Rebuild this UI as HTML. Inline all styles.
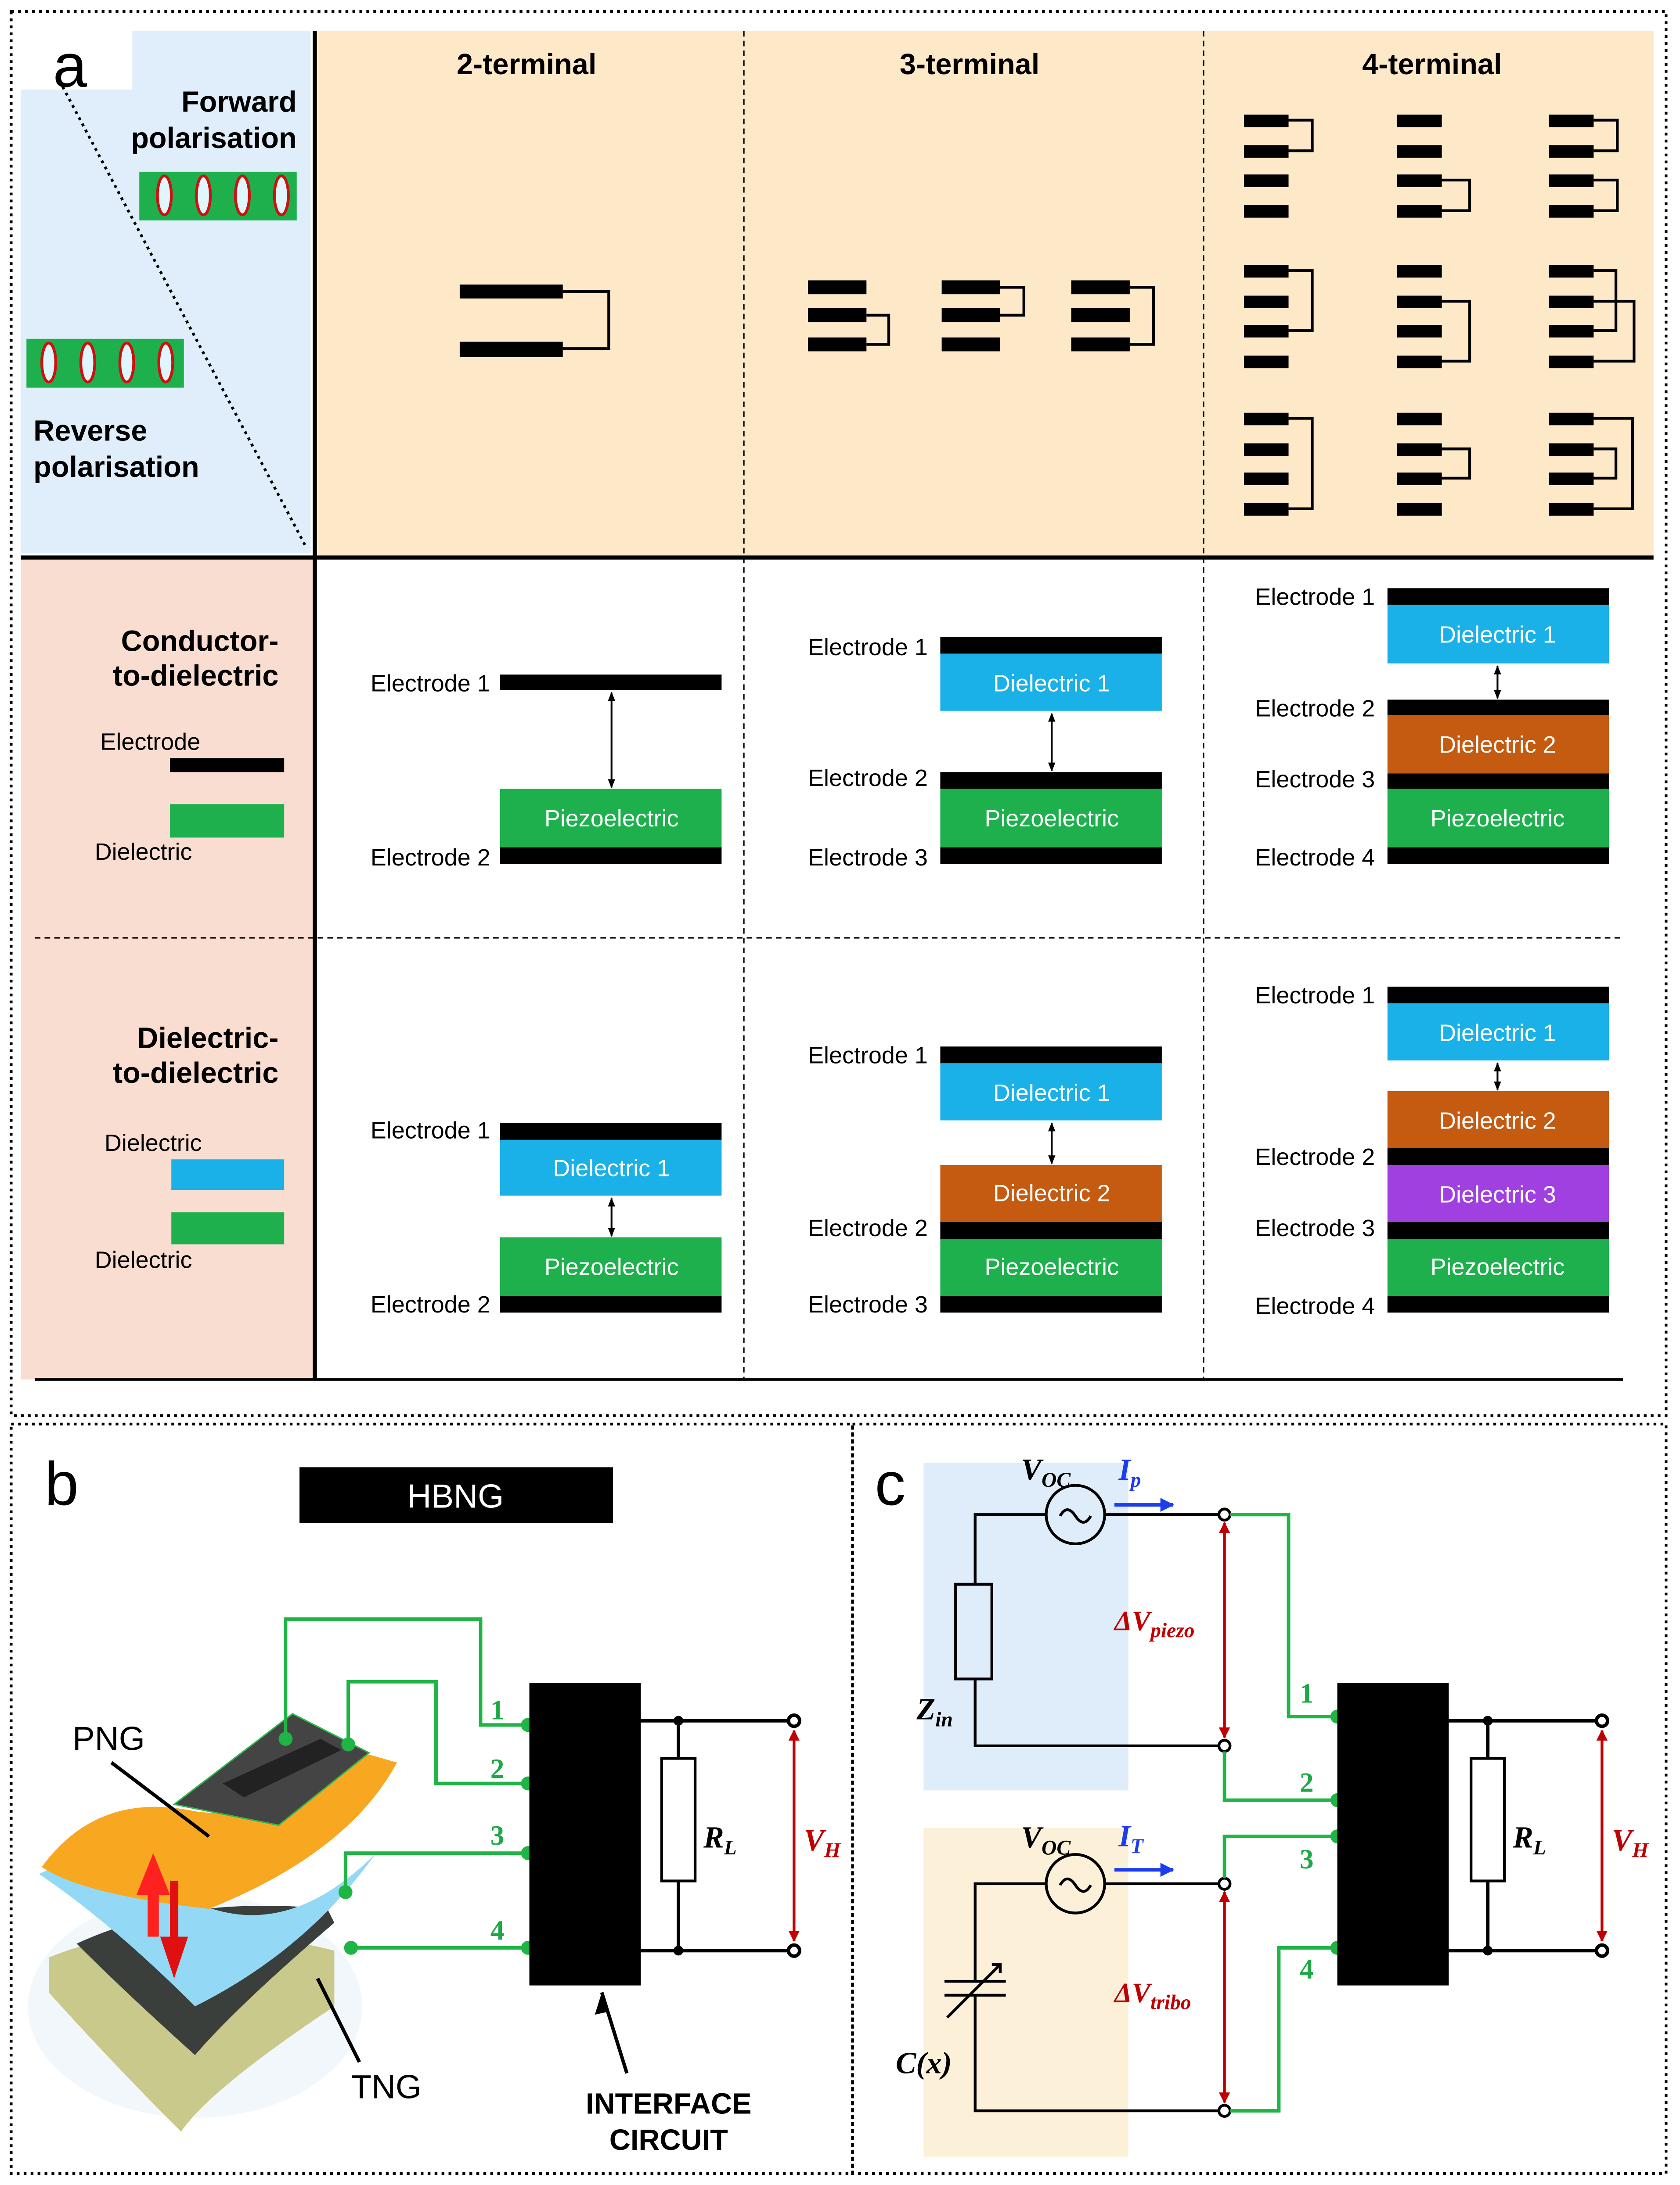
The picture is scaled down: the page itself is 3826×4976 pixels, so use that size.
<!DOCTYPE html>
<html><head><meta charset="utf-8"><style>
html,body{margin:0;padding:0;background:#fff}
svg{display:block}
text{font-family:"Liberation Sans",sans-serif}
.h{font-weight:bold;font-size:21px}
.l{font-size:17px}
.w{fill:#fff;font-size:17px;text-anchor:middle}
.m{font-family:"Liberation Serif",serif;font-weight:bold;font-style:italic}
.g{fill:#1fa845;font-family:"Liberation Serif",serif;font-weight:bold;font-size:20px}
</style></head><body>
<svg width="3826" height="4976" viewBox="0 0 1206 1568" xmlns="http://www.w3.org/2000/svg">
<defs>
<marker id="ab" viewBox="0 0 10 10" refX="9" refY="5" markerWidth="5" markerHeight="5" orient="auto-start-reverse"><path d="M0,1L10,5L0,9z" fill="#000"/></marker>
<marker id="ar" viewBox="0 0 10 10" refX="9" refY="5" markerWidth="4" markerHeight="4" orient="auto-start-reverse"><path d="M0,0L10,5L0,10z" fill="#c00000"/></marker>
<marker id="abl" viewBox="0 0 10 10" refX="9" refY="5" markerWidth="4" markerHeight="4" orient="auto"><path d="M0,0L10,5L0,10z" fill="#1c3cf0"/></marker>
</defs>
<!-- Panel a backgrounds -->
<rect x="15" y="22" width="208" height="375" fill="#dfeefa"/>
<rect x="15" y="22" width="80" height="42" fill="#fff"/>
<rect x="228" y="22" width="959" height="378" fill="#fde9c8"/>
<rect x="15" y="400" width="212" height="590" fill="#f9ddd0"/>
<g fill="none" stroke="#000" stroke-dasharray="2,3" stroke-width="2">
<rect x="8" y="8" width="1188" height="1008"/>
<rect x="8" y="1022" width="604" height="538"/>
<rect x="612" y="1022" width="584" height="538"/>
</g>
<line x1="226" y1="22" x2="226" y2="990" stroke="#000" stroke-width="3"/>
<line x1="15" y1="400" x2="1187" y2="400" stroke="#000" stroke-width="3"/>
<line x1="25" y1="990" x2="1165" y2="990" stroke="#000" stroke-width="2"/>
<g stroke="#000" stroke-width="1" stroke-dasharray="4,3">
<line x1="534" y1="22" x2="534" y2="990"/><line x1="864" y1="22" x2="864" y2="990"/>
<line x1="25" y1="673" x2="1165" y2="673"/>
<line x1="45" y1="62" x2="220" y2="393" stroke-dasharray="2,3" stroke-width="2"/>
</g>
<text x="38" y="62" font-size="44">a</text>
<text class="h" x="213" y="80" text-anchor="end">Forward</text>
<text class="h" x="213" y="106" text-anchor="end">polarisation</text>
<text class="h" x="24" y="316">Reverse</text>
<text class="h" x="24" y="342">polarisation</text>
<rect x="100" y="123" width="113" height="35" fill="#1db04d"/>
<rect x="19" y="243" width="113" height="35" fill="#1db04d"/>
<g fill="#dff6ff" stroke="#d01010" stroke-width="2">
<ellipse cx="118" cy="140" rx="5" ry="14"/><ellipse cx="146" cy="140" rx="5" ry="14"/><ellipse cx="174" cy="140" rx="5" ry="14"/><ellipse cx="202" cy="140" rx="5" ry="14"/>
<ellipse cx="35" cy="260" rx="5" ry="14"/><ellipse cx="63" cy="260" rx="5" ry="14"/><ellipse cx="91" cy="260" rx="5" ry="14"/><ellipse cx="119" cy="260" rx="5" ry="14"/>
</g>
<text class="h" x="378" y="53" text-anchor="middle">2-terminal</text>
<text class="h" x="696" y="53" text-anchor="middle">3-terminal</text>
<text class="h" x="1028" y="53" text-anchor="middle">4-terminal</text>
<!-- 2-terminal -->
<g fill="#000"><rect x="330" y="204" width="74" height="10"/><rect x="330" y="245" width="74" height="11"/></g>
<path d="M404,209H437V250H404" fill="none" stroke="#000" stroke-width="2"/>
<!-- 3-terminal -->
<g fill="#000">
<rect x="580" y="201" width="42" height="10"/><rect x="580" y="221" width="42" height="10"/><rect x="580" y="242" width="42" height="10"/>
<rect x="676" y="201" width="42" height="10"/><rect x="676" y="221" width="42" height="10"/><rect x="676" y="242" width="42" height="10"/>
<rect x="769" y="201" width="42" height="10"/><rect x="769" y="221" width="42" height="10"/><rect x="769" y="242" width="42" height="10"/>
</g>
<g fill="none" stroke="#000" stroke-width="2">
<path d="M622,226H638V247H622"/><path d="M718,206H735V226H718"/><path d="M811,206H828V247H811"/>
</g>
<!-- 4-terminal -->
<g fill="#000">
<rect x="893" y="82" width="32" height="9"/><rect x="893" y="104" width="32" height="9"/><rect x="893" y="125" width="32" height="9"/><rect x="893" y="147" width="32" height="9"/>
<rect x="1003" y="82" width="32" height="9"/><rect x="1003" y="104" width="32" height="9"/><rect x="1003" y="125" width="32" height="9"/><rect x="1003" y="147" width="32" height="9"/>
<rect x="1112" y="82" width="32" height="9"/><rect x="1112" y="104" width="32" height="9"/><rect x="1112" y="125" width="32" height="9"/><rect x="1112" y="147" width="32" height="9"/>
<rect x="893" y="190" width="32" height="9"/><rect x="893" y="212" width="32" height="9"/><rect x="893" y="233" width="32" height="9"/><rect x="893" y="255" width="32" height="9"/>
<rect x="1003" y="190" width="32" height="9"/><rect x="1003" y="212" width="32" height="9"/><rect x="1003" y="233" width="32" height="9"/><rect x="1003" y="255" width="32" height="9"/>
<rect x="1112" y="190" width="32" height="9"/><rect x="1112" y="212" width="32" height="9"/><rect x="1112" y="233" width="32" height="9"/><rect x="1112" y="255" width="32" height="9"/>
<rect x="893" y="296" width="32" height="9"/><rect x="893" y="318" width="32" height="9"/><rect x="893" y="339" width="32" height="9"/><rect x="893" y="361" width="32" height="9"/>
<rect x="1003" y="296" width="32" height="9"/><rect x="1003" y="318" width="32" height="9"/><rect x="1003" y="339" width="32" height="9"/><rect x="1003" y="361" width="32" height="9"/>
<rect x="1112" y="296" width="32" height="9"/><rect x="1112" y="318" width="32" height="9"/><rect x="1112" y="339" width="32" height="9"/><rect x="1112" y="361" width="32" height="9"/>
</g>
<g fill="none" stroke="#000" stroke-width="2">
<path d="M925,86H942V108H925"/><path d="M1035,129H1055V151H1035"/><path d="M1144,86H1161V108H1144M1144,129H1161V151H1144"/>
<path d="M925,194H942V237H925"/><path d="M1035,216H1055V259H1035"/><path d="M1144,194H1160V237H1144M1144,216H1173V259H1144"/>
<path d="M925,300H942V365H925"/><path d="M1035,322H1055V343H1035"/><path d="M1144,300H1172V365H1144M1144,322H1160V343H1144"/>
</g>
<!-- row labels -->
<text class="h" x="200" y="467" text-anchor="end">Conductor-</text>
<text class="h" x="200" y="492" text-anchor="end">to-dielectric</text>
<text class="l" x="72" y="538">Electrode</text>
<rect x="122" y="544" width="82" height="10" fill="#000"/>
<rect x="122" y="577" width="82" height="24" fill="#1db04d"/>
<text class="l" x="68" y="617">Dielectric</text>
<text class="h" x="200" y="752" text-anchor="end">Dielectric-</text>
<text class="h" x="200" y="777" text-anchor="end">to-dielectric</text>
<text class="l" x="75" y="826">Dielectric</text>
<rect x="123" y="832" width="81" height="22" fill="#1ab0e8"/>
<rect x="123" y="870" width="81" height="23" fill="#1db04d"/>
<text class="l" x="68" y="910">Dielectric</text>
<!-- cells -->
<g fill="#000">
<rect x="359" y="484" width="159" height="11"/><rect x="359" y="608" width="159" height="12"/>
<rect x="675" y="457" width="159" height="12"/><rect x="675" y="554" width="159" height="12"/><rect x="675" y="608" width="159" height="12"/>
<rect x="996" y="422" width="159" height="12"/><rect x="996" y="502" width="159" height="11"/><rect x="996" y="555" width="159" height="11"/><rect x="996" y="608" width="159" height="12"/>
<rect x="359" y="806" width="159" height="12"/><rect x="359" y="930" width="159" height="12"/>
<rect x="675" y="751" width="159" height="12"/><rect x="675" y="877" width="159" height="12"/><rect x="675" y="930" width="159" height="12"/>
<rect x="996" y="708" width="159" height="12"/><rect x="996" y="824" width="159" height="12"/><rect x="996" y="877" width="159" height="12"/><rect x="996" y="930" width="159" height="12"/>
</g>
<rect x="359" y="566" width="159" height="42" fill="#1db04d"/>
<rect x="675" y="469" width="159" height="41" fill="#1ab0e8"/><rect x="675" y="566" width="159" height="42" fill="#1db04d"/>
<rect x="996" y="434" width="159" height="42" fill="#1ab0e8"/><rect x="996" y="513" width="159" height="42" fill="#c55a11"/><rect x="996" y="566" width="159" height="42" fill="#1db04d"/>
<rect x="359" y="818" width="159" height="40" fill="#1ab0e8"/><rect x="359" y="888" width="159" height="42" fill="#1db04d"/>
<rect x="675" y="763" width="159" height="41" fill="#1ab0e8"/><rect x="675" y="836" width="159" height="41" fill="#c55a11"/><rect x="675" y="889" width="159" height="41" fill="#1db04d"/>
<rect x="996" y="720" width="159" height="41" fill="#1ab0e8"/><rect x="996" y="783" width="159" height="41" fill="#c55a11"/><rect x="996" y="836" width="159" height="41" fill="#a040e0"/><rect x="996" y="889" width="159" height="41" fill="#1db04d"/>
<g class="w">
<text class="w" x="439" y="593">Piezoelectric</text>
<text class="w" x="755" y="496">Dielectric 1</text><text class="w" x="755" y="593">Piezoelectric</text>
<text class="w" x="1075" y="461">Dielectric 1</text><text class="w" x="1075" y="540">Dielectric 2</text><text class="w" x="1075" y="593">Piezoelectric</text>
<text class="w" x="439" y="844">Dielectric 1</text><text class="w" x="439" y="915">Piezoelectric</text>
<text class="w" x="755" y="790">Dielectric 1</text><text class="w" x="755" y="862">Dielectric 2</text><text class="w" x="755" y="915">Piezoelectric</text>
<text class="w" x="1075" y="747">Dielectric 1</text><text class="w" x="1075" y="810">Dielectric 2</text><text class="w" x="1075" y="863">Dielectric 3</text><text class="w" x="1075" y="915">Piezoelectric</text>
</g>
<g stroke="#000" stroke-width="1.3" marker-start="url(#ab)" marker-end="url(#ab)">
<line x1="439" y1="497" x2="439" y2="565"/><line x1="755" y1="512" x2="755" y2="553"/><line x1="1075" y1="478" x2="1075" y2="501"/>
<line x1="439" y1="860" x2="439" y2="887"/><line x1="755" y1="806" x2="755" y2="835"/><line x1="1075" y1="763" x2="1075" y2="782"/>
</g>
<g class="l" text-anchor="end">
<text class="l" x="352" y="496" text-anchor="end">Electrode 1</text><text class="l" x="352" y="621" text-anchor="end">Electrode 2</text>
<text class="l" x="666" y="470" text-anchor="end">Electrode 1</text><text class="l" x="666" y="564" text-anchor="end">Electrode 2</text><text class="l" x="666" y="621" text-anchor="end">Electrode 3</text>
<text class="l" x="987" y="434" text-anchor="end">Electrode 1</text><text class="l" x="987" y="514" text-anchor="end">Electrode 2</text><text class="l" x="987" y="565" text-anchor="end">Electrode 3</text><text class="l" x="987" y="621" text-anchor="end">Electrode 4</text>
<text class="l" x="352" y="817" text-anchor="end">Electrode 1</text><text class="l" x="352" y="942" text-anchor="end">Electrode 2</text>
<text class="l" x="666" y="763" text-anchor="end">Electrode 1</text><text class="l" x="666" y="887" text-anchor="end">Electrode 2</text><text class="l" x="666" y="942" text-anchor="end">Electrode 3</text>
<text class="l" x="987" y="720" text-anchor="end">Electrode 1</text><text class="l" x="987" y="836" text-anchor="end">Electrode 2</text><text class="l" x="987" y="887" text-anchor="end">Electrode 3</text><text class="l" x="987" y="943" text-anchor="end">Electrode 4</text>
</g>
<!-- Panel b -->
<text x="32" y="1080" font-size="44">b</text>
<rect x="215" y="1053" width="225" height="40" fill="#000"/>
<text x="327" y="1082" fill="#fff" font-size="24" text-anchor="middle">HBNG</text>
<!-- device -->
<ellipse cx="140" cy="1440" rx="120" ry="80" fill="#f2f7fb"/>
<path d="M35,1405 Q120,1370 240,1400 L240,1440 Q150,1500 130,1530 Q80,1480 35,1430z" fill="#c8c98a"/>
<path d="M55,1395 Q130,1360 235,1370 L240,1380 Q170,1440 140,1475 Q90,1430 55,1395z" fill="#3a3f3c"/>
<path d="M28,1345 Q80,1320 130,1360 Q200,1400 270,1330 Q220,1400 140,1440 Q80,1380 28,1345z" fill="#93d9f5"/>
<path d="M30,1340 Q70,1285 140,1300 Q220,1310 250,1255 L285,1265 Q250,1330 150,1370 Q60,1360 30,1340z" fill="#f8a820"/>
<path d="M125,1295 L210,1230 L265,1258 L200,1310z" fill="#444" stroke="#2db84d" stroke-width="1"/>
<path d="M160,1280 L230,1248 L245,1256 L175,1290z" fill="#222"/>
<path d="M110,1330 L98,1360 H106 V1390 H114 V1360 H122z" fill="#ff2020"/>
<path d="M122,1350 V1390 H115 L125,1420 L135,1390 H128 V1350z" fill="#e01010"/>
<text x="52" y="1256" font-size="24">PNG</text>
<text x="252" y="1506" font-size="24">TNG</text>
<g stroke="#000" stroke-width="2.5"><line x1="80" y1="1265" x2="150" y2="1318"/><line x1="258" y1="1480" x2="228" y2="1420"/><line x1="450" y1="1488" x2="432" y2="1430"/></g>
<path d="M432,1430l-5,16l9,-2z" fill="#000"/>
<text x="480" y="1517" font-size="21" font-weight="bold" text-anchor="middle">INTERFACE</text>
<text x="480" y="1543" font-size="21" font-weight="bold" text-anchor="middle">CIRCUIT</text>
<g fill="none" stroke="#1fb545" stroke-width="2.5">
<path d="M205,1248V1162H345V1238H378"/><path d="M250,1252V1207H313V1280H378"/><path d="M248,1358V1330H378"/><path d="M252,1398H378"/>
</g>
<g fill="#1fb545"><circle cx="205" cy="1248" r="5"/><circle cx="250" cy="1252" r="5"/><circle cx="248" cy="1358" r="5"/><circle cx="252" cy="1398" r="5"/>
<circle cx="379" cy="1238" r="5"/><circle cx="379" cy="1280" r="5"/><circle cx="379" cy="1330" r="5"/><circle cx="379" cy="1398" r="5"/></g>
<text class="g" x="352" y="1234">1</text><text class="g" x="352" y="1276">2</text><text class="g" x="352" y="1324">3</text><text class="g" x="352" y="1392">4</text>
<rect x="380" y="1208" width="80" height="217" fill="#000"/>
<g fill="none" stroke="#000" stroke-width="2.5"><path d="M460,1235H566M460,1400H566M487,1235V1262M487,1350V1400"/><rect x="475" y="1262" width="24" height="88" stroke-width="2"/>
<circle cx="570" cy="1235" r="4"/><circle cx="570" cy="1400" r="4"/></g>
<circle cx="487" cy="1235" r="3.5"/><circle cx="487" cy="1400" r="3.5"/>
<line x1="570" y1="1242" x2="570" y2="1393" stroke="#c00000" stroke-width="2" marker-start="url(#ar)" marker-end="url(#ar)"/>
<text class="m" x="505" y="1326" font-size="22">R<tspan font-size="15" dy="5">L</tspan></text>
<text class="m" x="577" y="1328" font-size="22" fill="#c00000">V<tspan font-size="15" dy="5">H</tspan></text>
<!-- Panel c -->
<text x="628" y="1080" font-size="44">c</text>
<rect x="663" y="1050" width="147" height="235" fill="#deedf9"/>
<rect x="663" y="1312" width="147" height="236" fill="#fdf0d8"/>
<g fill="none" stroke="#000" stroke-width="2">
<path d="M700,1137V1087H751M794,1087H875M700,1205V1253H875"/><rect x="686" y="1137" width="26" height="68"/>
<circle cx="772" cy="1087" r="21"/><path d="M761,1088q5,-9 11,0t11,0"/>
<path d="M700,1422V1352H751M794,1352H875M700,1432V1515H875M678,1422H722M678,1432H722"/>
<circle cx="772" cy="1352" r="21"/><path d="M761,1353q5,-9 11,0t11,0"/>
<line x1="680" y1="1448" x2="718" y2="1410"/><path d="M712,1410h6v6"/>
<circle cx="879" cy="1087" r="4"/><circle cx="879" cy="1253" r="4"/><circle cx="879" cy="1352" r="4"/><circle cx="879" cy="1515" r="4"/>
</g>
<g stroke="#c00000" stroke-width="2"><line x1="879" y1="1093" x2="879" y2="1247" marker-start="url(#ar)" marker-end="url(#ar)"/><line x1="879" y1="1358" x2="879" y2="1509" marker-start="url(#ar)" marker-end="url(#ar)"/></g>
<g stroke="#1c3cf0" stroke-width="2.5"><line x1="800" y1="1080" x2="842" y2="1080" marker-end="url(#abl)"/><line x1="800" y1="1342" x2="842" y2="1342" marker-end="url(#abl)"/></g>
<text class="m" x="733" y="1062" font-size="22">V<tspan font-size="15" dy="5">OC</tspan></text>
<text class="m" x="733" y="1326" font-size="22">V<tspan font-size="15" dy="5">OC</tspan></text>
<text class="m" x="803" y="1062" font-size="22" fill="#1c3cf0">I<tspan font-size="15" dy="5">p</tspan></text>
<text class="m" x="803" y="1325" font-size="22" fill="#1c3cf0">I<tspan font-size="15" dy="5">T</tspan></text>
<text class="m" x="800" y="1170" font-size="20" fill="#c00000">ΔV<tspan font-size="15" dy="5">piezo</tspan></text>
<text class="m" x="800" y="1437" font-size="20" fill="#c00000">ΔV<tspan font-size="15" dy="5">tribo</tspan></text>
<text class="m" x="658" y="1234" font-size="22">Z<tspan font-size="15" dy="5">in</tspan></text>
<text class="m" x="643" y="1488" font-size="22">C(x)</text>
<g fill="none" stroke="#1fb545" stroke-width="2.5">
<path d="M883,1087H925V1232H958"/><path d="M879,1257V1292H958"/><path d="M879,1348V1318H958"/><path d="M883,1515H918V1398H958"/>
</g>
<g fill="#1fb545"><circle cx="960" cy="1232" r="5"/><circle cx="960" cy="1292" r="5"/><circle cx="960" cy="1318" r="5"/><circle cx="960" cy="1398" r="5"/></g>
<text class="g" x="933" y="1222">1</text><text class="g" x="933" y="1286">2</text><text class="g" x="933" y="1341">3</text><text class="g" x="933" y="1420">4</text>
<rect x="960" y="1208" width="80" height="217" fill="#000"/>
<g fill="none" stroke="#000" stroke-width="2.5"><path d="M1040,1235H1146M1040,1400H1146M1068,1235V1262M1068,1350V1400"/><rect x="1056" y="1262" width="24" height="88" stroke-width="2"/>
<circle cx="1150" cy="1235" r="4"/><circle cx="1150" cy="1400" r="4"/></g>
<circle cx="1068" cy="1235" r="3.5"/><circle cx="1068" cy="1400" r="3.5"/>
<line x1="1150" y1="1242" x2="1150" y2="1393" stroke="#c00000" stroke-width="2" marker-start="url(#ar)" marker-end="url(#ar)"/>
<text class="m" x="1086" y="1326" font-size="22">R<tspan font-size="15" dy="5">L</tspan></text>
<text class="m" x="1157" y="1328" font-size="22" fill="#c00000">V<tspan font-size="15" dy="5">H</tspan></text>
</svg>
</body></html>
